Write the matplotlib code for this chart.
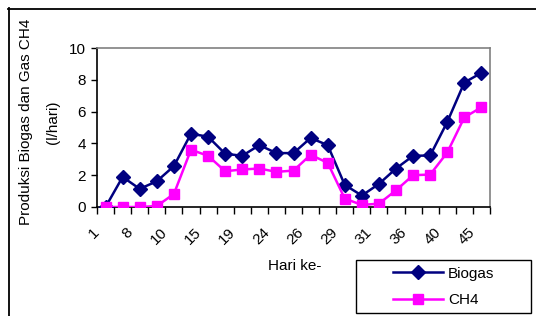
import numpy as np
import matplotlib
matplotlib.use('Agg')
import matplotlib.pyplot as plt
from matplotlib.lines import Line2D
from matplotlib.transforms import ScaledTranslation

plt.rcParams['font.family'] = ['Liberation Sans', 'DejaVu Sans']

# day labels shown on every second category
day_labels = ['1', '8', '10', '15', '19', '24', '26', '29', '31', '36', '40', '45']

biogas = [0.0, 1.89, 1.14, 1.62, 2.57, 4.61, 4.42, 3.35, 3.22, 3.89, 3.39, 3.39,
          4.34, 3.89, 1.39, 0.72, 1.45, 2.42, 3.22, 3.24, 5.35, 7.83, 8.44]
ch4 = [0.0, 0.0, 0.0, 0.06, 0.82, 3.60, 3.22, 2.25, 2.36, 2.42, 2.21, 2.29,
       3.28, 2.78, 0.53, 0.13, 0.21, 1.05, 2.00, 2.04, 3.43, 5.64, 6.27]

W, H = 536, 316
FS = 11
fig = plt.figure(figsize=(W / 100, H / 100), dpi=100)
ax = fig.add_axes([97 / W, 1 - 207 / H, (490 - 97) / W, (207 - 48) / H])

x = np.arange(len(biogas))
ax.plot(x, biogas, color='#000080', lw=1.8, marker='D', markersize=7,
        label='Biogas', zorder=3)
ax.plot(x, ch4, color='#FF00FF', lw=1.8, marker='s', markersize=7.5,
        label='CH4', zorder=4)

ax.set_xlim(-0.5, len(x) - 0.5)
ax.set_ylim(0, 10)
ax.set_yticks(np.arange(0, 11, 2))
ax.tick_params(axis='y', direction='out', length=4, width=1, pad=4, labelsize=FS)

# category boundaries get the tick marks, labels sit on every second category
ax.set_xticks(np.arange(-0.5, len(x), 1.0))
ax.set_xticklabels([])
ax.tick_params(axis='x', which='major', direction='out', length=5, width=1)
ax.set_xticks(x[::2], minor=True)
ax.set_xticklabels(day_labels, minor=True, rotation=45, ha='right', va='top')
ax.tick_params(axis='x', which='minor', length=0, pad=13, labelsize=FS)
for lbl in ax.get_xticklabels(minor=True):
    lbl.set_transform(lbl.get_transform() + ScaledTranslation(-4 / 100, 0, fig.dpi_scale_trans))

for s in ['top', 'right']:
    ax.spines[s].set_color('#808080')
for s in ['left', 'bottom']:
    ax.spines[s].set_color('black')
for s in ax.spines.values():
    s.set_linewidth(1.2)

fig.text(26 / W, 1 - 122 / H, 'Produksi Biogas dan Gas CH4', rotation=90,
         ha='center', va='center', fontsize=FS)
fig.text(53 / W, 1 - 122 / H, '(l/hari)', rotation=90,
         ha='center', va='center', fontsize=FS)
fig.text(295 / W, 1 - 266 / H, 'Hari ke-', ha='center', va='center', fontsize=FS)

# outer chart border (runs off the right and bottom edges)
fig.add_artist(Line2D([8 / W, 1.0], [1 - 8.5 / H] * 2, color='black', lw=1.3,
                      transform=fig.transFigure))
fig.add_artist(Line2D([8.5 / W] * 2, [1 - 8 / H, 0.0], color='black', lw=1.3,
                      transform=fig.transFigure))

# legend box
lx0, lx1, ly0, ly1 = 356, 531, 260, 313
fig.add_artist(plt.Rectangle((lx0 / W, 1 - ly1 / H), (lx1 - lx0) / W, (ly1 - ly0) / H,
                             fill=False, edgecolor='black', lw=1.0,
                             transform=fig.transFigure))
leg = fig.legend(loc='center left', bbox_to_anchor=(393 / W, 1 - 287 / H),
                 frameon=False, fontsize=FS, handlelength=3.3, handletextpad=0.3,
                 labelspacing=0.85, borderpad=0, borderaxespad=0)

fig.savefig('out.png', dpi=100)
